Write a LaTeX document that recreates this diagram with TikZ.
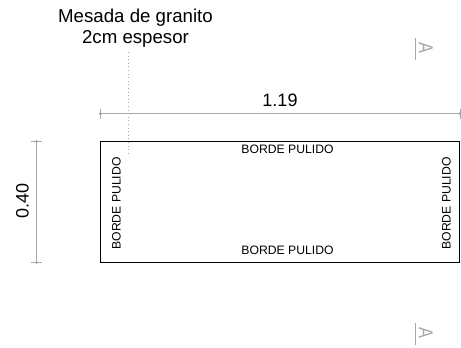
\documentclass[tikz,border=0pt]{standalone}
\usepackage{fontspec}
\setmainfont{Liberation Sans}
\definecolor{dimgray}{rgb}{0.66,0.66,0.66}
\tikzset{
    dimline/.style={color=dimgray,line width=0.7pt},
    dimtick/.style={color=dimgray,line width=0.5pt},
    dimdot/.style={fill=dimgray,draw=none},
    bigtext/.style={inner sep=0pt,font=\fontsize{14}{16}\selectfont,align=center},
    dimtext/.style={inner sep=0pt,font=\fontsize{13.5}{16}\selectfont},
    edgetext/.style={inner sep=0pt,font=\fontsize{9.15}{11}\selectfont},
    cuttext/.style={inner sep=0pt,color=dimgray,font=\fontsize{13}{15}\selectfont,rotate=-90,xscale=0.95,yscale=1.17},
}
\begin{document}
\begin{tikzpicture}[x=0.75pt,y=-0.75pt]
    \useasboundingbox (0,0) rectangle (461,347);

    \coordinate (tl) at (100.5,141.5);
    \coordinate (br) at (459.8,262);
    \draw[color=black,line width=0.75pt] (tl) rectangle (br);

    %labels on the edges
    \node[edgetext] (top) at (287.5,149.5) {BORDE PULIDO};
    \node[edgetext] (bottom) at (287.5,250) {BORDE PULIDO};
    \node[edgetext,rotate=90] (left) at (116.5,203.5) {BORDE PULIDO};
    \node[edgetext,rotate=90] (right) at (446.5,203.5) {BORDE PULIDO};

    %leader
    \node[bigtext] (title) at (135.5,28) {Mesada de granito\\2cm espesor};
    \coordinate (lead1) at (128.5,52);
    \coordinate (lead2) at (128.5,153);
    \draw[color=dimgray,line width=0.7pt,dotted] (lead1) -- (lead2);

    %horizontal dimension
    \coordinate (h1) at (100.5,113.7);
    \coordinate (h2) at (460,113.7);
    \draw[dimline] (h1) -- (h2);
    \draw[dimtick] (100.5,108.5) -- (100.5,119);
    \draw[dimtick] (460,108.5) -- (460,119);
    \fill[dimdot] (h1) circle (1.3pt);
    \fill[dimdot] (h2) circle (1.3pt);
    \node[dimtext] (width) at (280,100) {1.19};

    %vertical dimension
    \coordinate (v1) at (36.5,141.5);
    \coordinate (v2) at (36.5,262.5);
    \draw[dimline] (v1) -- (v2);
    \draw[dimtick] (31,141.5) -- (42,141.5);
    \draw[dimtick] (31,262.5) -- (42,262.5);
    \fill[dimdot] (v1) circle (1.2pt);
    \fill[dimdot] (v2) circle (1.2pt);
    \node[dimtext,rotate=90] (height) at (22.5,201) {0.40};

    %cut marks
    \coordinate (a1) at (415.7,38);
    \coordinate (a2) at (415.7,60);
    \draw[dimline] (a1) -- (a2);
    \node[cuttext] (cut1) at (425.8,48.4) {A};
    \coordinate (b1) at (415.7,323);
    \coordinate (b2) at (415.7,345);
    \draw[dimline] (b1) -- (b2);
    \node[cuttext] (cut2) at (425.8,333.4) {A};
\end{tikzpicture}
\end{document}
